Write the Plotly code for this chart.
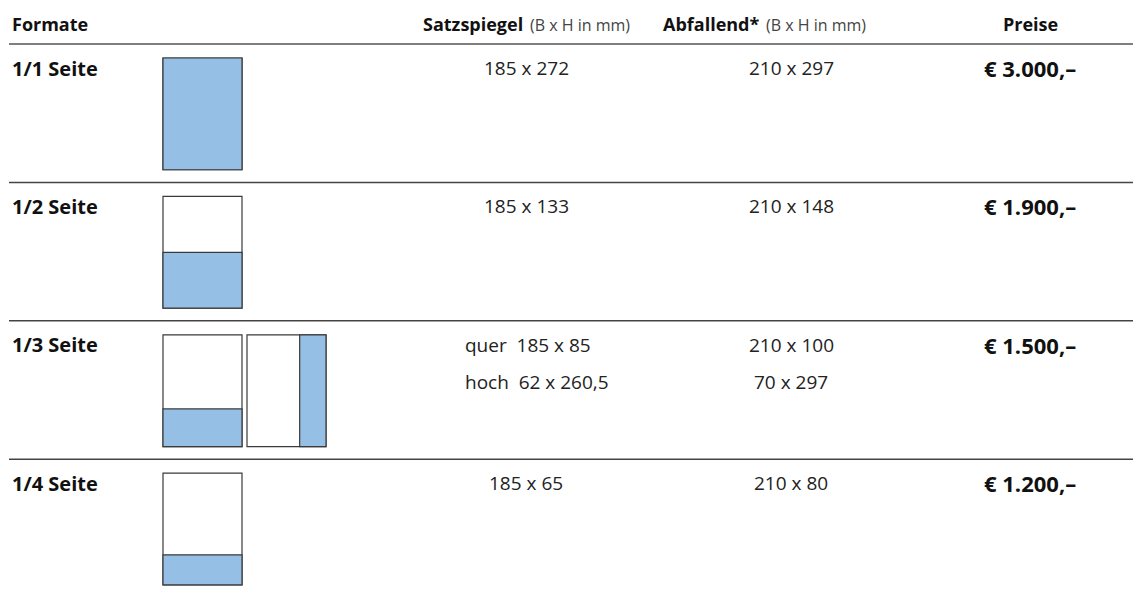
import plotly.graph_objects as go

# ---------------- data ----------------
formate = ["1/1 Seite", "1/2 Seite", "1/3 Seite", "1/4 Seite"]
satzspiegel = [["185 x 272"], ["185 x 133"], ["quer  185 x 85", "hoch  62 x 260,5"], ["185 x 65"]]
abfallend = [["210 x 297"], ["210 x 148"], ["210 x 100", "70 x 297"], ["210 x 80"]]
preise = ["€ 3.000,–", "€ 1.900,–", "€ 1.500,–", "€ 1.200,–"]
# page size (mm) and the bleed format that is shaded in each icon
page_w, page_h = 210, 297
quer_heights = [297, 148, 100, 80]      # horizontal format heights (mm)
hoch_widths = [None, None, 70, None]    # vertical format widths (mm)
headers = ["Formate", "Satzspiegel", "Abfallend*", "Preise"]
header_sub = "(B x H in mm)"

# ---------------- layout constants ----------------
W, H = 1133, 590
BLUE = "#95bfe5"
EDGE = "#3a3a3a"
FONT = "Open Sans"
mm = 79 / 210.0          # px per mm for icons
header_line_y = 44
row_h = 138.4
icon_x = 163
icon2_x = 247
col_satz = 526
col_abf = 791
col_preis = 1030
satz_left = 463

fig = go.Figure()
shapes = []
ann = []

def rect(x0, y0, x1, y1, fill):
    shapes.append(dict(type="rect", xref="x", yref="y", x0=x0, y0=y0, x1=x1, y1=y1,
                       fillcolor=fill, line=dict(color=EDGE, width=1.2), layer="above"))

HS = 18
# header
ann.append(dict(x=10, y=24, text=headers[0], xanchor="left",
                font=dict(size=HS, color="#111", family=FONT, weight=700)))
ann.append(dict(x=525, y=24, text=headers[1], xanchor="right",
                font=dict(size=HS, color="#111", family=FONT, weight=700)))
ann.append(dict(x=528, y=25, text=header_sub, xanchor="left",
                font=dict(size=16, color="#444", family=FONT)))
ann.append(dict(x=761, y=24, text=headers[2], xanchor="right",
                font=dict(size=HS, color="#111", family=FONT, weight=700)))
ann.append(dict(x=764, y=25, text=header_sub, xanchor="left",
                font=dict(size=16, color="#444", family=FONT)))
ann.append(dict(x=col_preis, y=24, text=headers[3], xanchor="center",
                font=dict(size=HS, color="#111", family=FONT, weight=700)))

shapes.append(dict(type="line", xref="x", yref="y", x0=9, x1=W, y0=header_line_y, y1=header_line_y,
                   line=dict(color="#7f7f7f", width=2)))

for i, name in enumerate(formate):
    top = header_line_y + i * row_h
    if i > 0:
        shapes.append(dict(type="line", xref="x", yref="y", x0=9, x1=W, y0=top, y1=top,
                           line=dict(color="#444444", width=1.5)))
    ty = top + 24
    ann.append(dict(x=10, y=ty, text=name, xanchor="left",
                    font=dict(size=20, color="#111", family=FONT, weight=700)))
    # icon: page with shaded bottom part
    iy0 = top + 14
    iy1 = iy0 + page_h * mm
    rect(icon_x, iy0, icon_x + page_w * mm, iy1, "white")
    rect(icon_x, iy1 - quer_heights[i] * mm, icon_x + page_w * mm, iy1, BLUE)
    if hoch_widths[i]:
        x1 = icon2_x + page_w * mm
        rect(icon2_x, iy0, x1, iy1, "white")
        rect(x1 - hoch_widths[i] * mm, iy0, x1, iy1, BLUE)
    # values
    for k, s in enumerate(satzspiegel[i]):
        if len(satzspiegel[i]) > 1:
            ann.append(dict(x=satz_left, y=ty + k * 37, text=s, xanchor="left",
                            font=dict(size=19, color="#222", family=FONT)))
        else:
            ann.append(dict(x=col_satz, y=ty + k * 37, text=s, xanchor="center",
                            font=dict(size=19, color="#222", family=FONT)))
    for k, s in enumerate(abfallend[i]):
        ann.append(dict(x=col_abf, y=ty + k * 37, text=s, xanchor="center",
                        font=dict(size=19, color="#222", family=FONT)))
    ann.append(dict(x=col_preis, y=ty, text=preise[i], xanchor="center",
                    font=dict(size=22, color="#111", family=FONT, weight=700)))

for a in ann:
    a.update(xref="x", yref="y", yanchor="middle", showarrow=False)

fig.update_layout(
    width=W, height=H, margin=dict(l=0, r=0, t=0, b=0),
    paper_bgcolor="white", plot_bgcolor="white",
    xaxis=dict(range=[0, W], visible=False, fixedrange=True),
    yaxis=dict(range=[H, 0], visible=False, fixedrange=True),
    shapes=shapes, annotations=ann, showlegend=False,
)
fig.write_html("out.html", config={"displayModeBar": False},
               post_script="document.body.style.margin='0';document.body.style.overflow='hidden';")
